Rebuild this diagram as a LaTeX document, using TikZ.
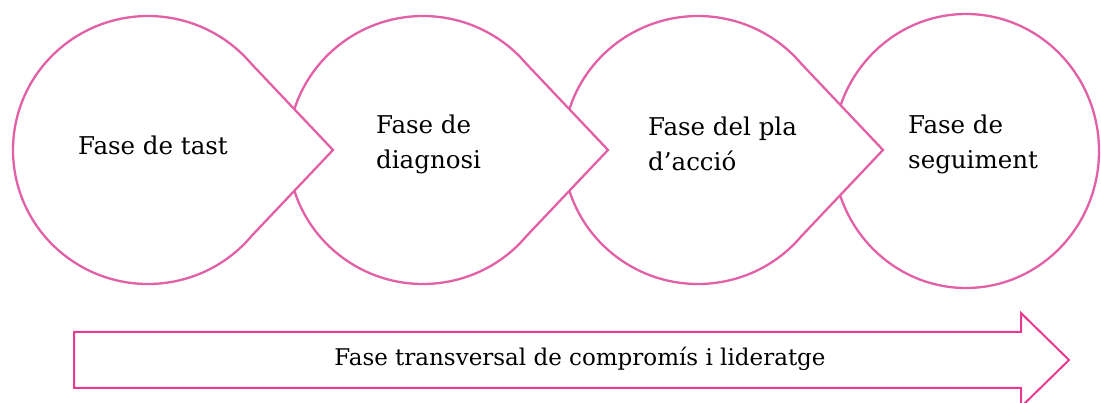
\documentclass[tikz,border=0pt]{standalone}
\usepackage{fontspec}
\setmainfont{DejaVu Serif}
\usetikzlibrary{calc}
\definecolor{pinkc}{RGB}{226,96,166}
\definecolor{pinka}{RGB}{232,58,146}
\tikzset{
  phase/.style={draw=pinkc, line width=2.3pt, fill=white, line join=miter},
  label/.style={anchor=west, align=left, inner sep=0pt, font=\fontsize{24.5}{35}\selectfont, text=black},
  arrowbox/.style={draw=pinka, line width=2pt, fill=white},
  arrowlabel/.style={inner sep=0pt, font=\fontsize{23}{26}\selectfont, text=black}
}
\begin{document}
\begin{tikzpicture}[x=1pt,y=-1pt]
\useasboundingbox (0,0) rectangle (1101,403);
\clip (0,0) rectangle (1101,403);
% centres
\coordinate (c1) at (148,150);
\coordinate (c2) at (423,150);
\coordinate (c3) at (698,150);
\coordinate (c4) at (966,151);
\coordinate (p1) at (333,150);
\coordinate (p2) at (608,150);
\coordinate (p3) at (883,150);
% shape 4 (plain circle)
\path[phase] (c4) ellipse [x radius=133, y radius=137];
% shapes 3,2,1 with tips
\foreach \i in {3,2,1}{
  \path[phase] ($(c\i)+(40:135 and 134)$)
     arc[start angle=40, end angle=320, x radius=135, y radius=134]
     -- (p\i) -- cycle;
}
\node[label] (t1) at (78,145) {Fase de tast};
\node[label] (t2) at (376,144) {Fase de\\diagnosi};
\node[label] (t3) at (648,144) {Fase del pla\\d’acció};
\node[label] (t4) at (908,144) {Fase de\\seguiment};
% transversal arrow
\coordinate (a1) at (74,332);
\coordinate (a2) at (1021,332);
\coordinate (a3) at (1021,313);
\coordinate (a4) at (1069,360);
\coordinate (a5) at (1021,407);
\coordinate (a6) at (1021,388);
\coordinate (a7) at (74,388);
\path[arrowbox] (a1) -- (a2) -- (a3) -- (a4) -- (a5) -- (a6) -- (a7) -- cycle;
\node[arrowlabel] (tb) at (580,359) {Fase transversal de compromís i lideratge};
\end{tikzpicture}
\end{document}
